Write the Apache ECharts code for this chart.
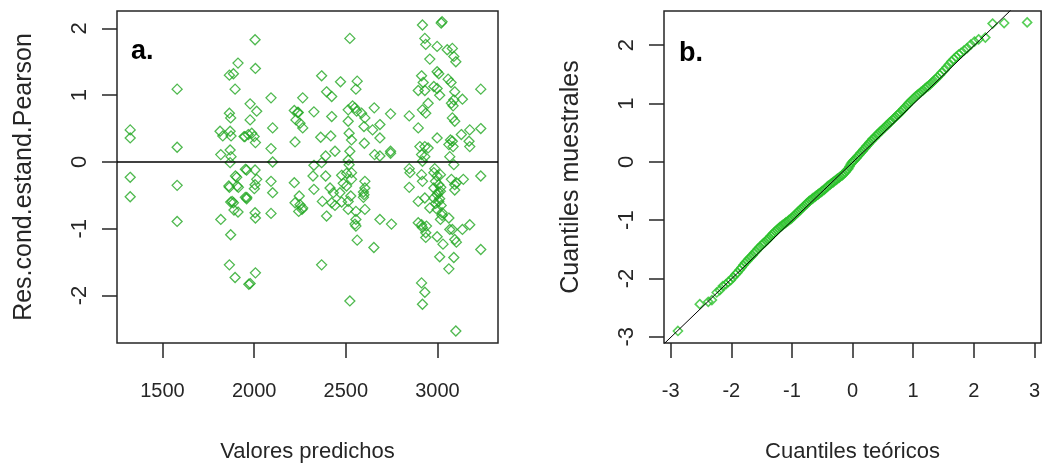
<!DOCTYPE html>
<html>
<head>
<meta charset="utf-8">
<script src="https://cdn.jsdelivr.net/npm/echarts@6/dist/echarts.min.js"></script>
<style>
  html, body { margin: 0; padding: 0; background: #fff; }
  #main { width: 1043px; height: 468px; }
</style>
</head>
<body>
<div id="main"></div>
<script>
// panel a: valores predichos vs residuos
const predX = [
  1324, 1324, 1324, 1324,
  1580, 1580, 1580, 1580,
  1912, 1865, 1887, 1896, 1865, 1872, 1814, 1829, 1869, 1874, 1818, 1869, 1874, 1869, 1905, 1865, 1914, 1872, 1887, 1912, 1818, 1872, 1865, 1896,
  1898, 1907, 1862, 1880, 1890, 1952, 1952, 1971, 1945,
  2005, 2007, 1978, 2014, 1978, 1950, 1968, 1987, 2000, 2007, 1959, 2005, 2014, 2005, 2001, 1959, 2005, 2007, 1978, 2007, 1960,
  2092, 2101, 2092, 2101, 2092, 2101, 2092,
  2265, 2219, 2237, 2228, 2250, 2265, 2223, 2219, 2246, 2223, 2250, 2265, 2243, 2261, 2241,
  2368, 2326, 2395, 2423, 2423, 2363, 2418, 2390, 2441, 2326, 2368, 2321, 2390, 2326, 2414, 2432, 2372, 2423, 2441, 2395, 2368,
  2522, 2471, 2562, 2555, 2513, 2537, 2549, 2559, 2513, 2518, 2531, 2522, 2513, 2518, 2477, 2504, 2531, 2531, 2486, 2468, 2504, 2527, 2513, 2477, 2513, 2555, 2555, 2555, 2562, 2522, 2550,
  2604, 2599, 2586, 2601, 2604, 2604, 2599, 2604, 2596, 2596, 2655, 2646, 2657, 2686, 2686, 2686, 2653, 2686, 2744, 2744, 2744, 2749,
  2918, 2846, 2895, 2846, 2850, 2846, 2895, 2895, 2913, 2918, 2913, 2931, 2918, 2931, 2936, 2958, 2913, 2922, 2895, 2931, 2918, 2936, 2949, 2904, 2931, 2949, 2913, 2931, 2918, 2913, 2918, 2931, 2940, 2936, 2936,
  3025, 3020, 2998, 3053, 2998, 3007, 2980, 2998, 3012, 3058, 3074, 2998, 2980, 2998, 3016, 2989, 3007, 2980, 3016, 2998, 2980, 3007, 3020, 2998, 3025, 2958, 3016, 3025, 2998, 3012, 3030, 3071, 3062, 3067, 3062, 3067, 3062,
  2985, 3005, 3012, 2990, 3018,
  3081, 3089, 3100, 3094, 3089, 3076, 3085, 3136, 3081, 3094, 3081, 3085, 3089, 3076, 3094, 3103, 3094, 3141, 3136, 3081, 3094, 3103, 3089, 3100, 3130, 3176, 3172, 3176, 3176,
  3236, 3236, 3236, 3236
];
const resY = [
  0.48, 0.36, -0.23, -0.52,
  1.09, 0.22, -0.35, -0.89,
  1.48, 1.30, 1.32, 1.09, 0.73, 0.66, 0.46, 0.39, 0.46, 0.39, 0.11, 0.18, 0.08, -0.01, -0.23, -0.38, -0.38, -0.60, -0.61, -0.75, -0.86, -1.09, -1.54, -1.73,
  -0.21, -0.36, -0.36, -0.59, -0.72, -0.11, -0.53, -1.83, 0.38,
  1.83, 1.40, 0.87, 0.76, 0.63, 0.38, 0.41, 0.43, 0.38, 0.29, -0.12, -0.12, -0.26, -0.34, -0.40, -0.55, -0.76, -0.84, -1.82, -1.66, -0.53,
  0.96, 0.51, 0.20, 0.00, -0.29, -0.46, -0.77,
  0.96, 0.77, 0.74, 0.63, 0.58, 0.51, 0.30, -0.31, -0.51, -0.61, -0.64, -0.69, -0.74, -0.71, 0.74,
  1.29, 0.75, 1.05, 0.98, 0.68, 0.37, 0.39, 0.09, 0.16, -0.05, -0.01, -0.21, -0.21, -0.41, -0.39, -0.46, -0.59, -0.61, -0.65, -0.81, -1.54,
  1.85, 1.20, 1.21, 1.09, 0.78, 0.84, 0.81, 0.76, 0.61, 0.43, 0.33, 0.16, 0.03, -0.04, -0.20, -0.17, -0.16, -0.26, -0.32, -0.46, -0.36, -0.51, -0.59, -0.60, -0.71, -0.74, -0.86, -0.96, -1.17, -2.08, -0.93,
  0.66, 0.53, 0.73, 0.28, -0.29, -0.39, -0.49, -0.71, -0.45, -0.53, 0.81, 0.48, 0.11, 0.56, 0.36, 0.09, -1.28, -0.86, 0.72, 0.16, 0.13, -0.93,
  2.05, 0.69, 0.51, -0.10, -0.16, -0.38, -0.59, -0.91, -0.94, -0.98, -1.81, -1.95, -2.13, 1.85, 1.76, 1.54, 1.29, 1.19, 1.07, 1.07, 0.78, 0.73, 0.88, 0.23, 0.23, 0.21, 0.11, 0.08, 0.01, -0.19, -0.29, -0.54, -0.96, -1.06, -1.13,
  2.10, 2.08, 1.73, 1.68, 1.35, 1.32, 1.13, 1.10, 1.00, 1.24, 1.19, 0.36, -0.16, -0.21, -0.19, -0.29, -0.34, -0.39, -0.44, -0.49, -0.54, -0.59, -0.65, -0.71, -0.76, -0.69, -0.86, -0.80, -1.12, -1.42, -1.23, 0.33, 0.26, 0.08, -0.84, -1.01, -1.60,
  -0.10, -0.45, -0.55, -0.62, -0.38,
  1.70, 1.58, 1.50, 1.05, 0.93, 0.88, 0.84, 0.94, 0.66, 0.61, 0.31, 0.23, -0.04, -0.26, -0.34, -0.31, -0.42, -0.26, -1.01, -1.01, -1.16, -1.20, -1.43, -2.53, 0.41, 0.48, 0.31, 0.23, -0.94,
  1.09, 0.50, -0.21, -1.31
];
const xTicksA = [1500, 2000, 2500, 3000];
const yTicksA = [-2, -1, 0, 1, 2];

// panel b: QQ normal
const qqTheo = [
  -2.88, -2.52, -2.38, -2.32, -2.24, -2.19, -2.14, -2.09, -2.05, -2.01, -1.97, -1.93, -1.90, -1.86, -1.83, -1.80, -1.77, -1.74, -1.71, -1.68,
  -1.65, -1.62, -1.59, -1.56, -1.53, -1.50, -1.47, -1.45, -1.42, -1.40, -1.37, -1.35, -1.32, -1.30, -1.27, -1.25, -1.22, -1.20, -1.17, -1.15,
  -1.12, -1.10, -1.07, -1.05, -1.02, -1.00, -0.97, -0.95, -0.92, -0.90, -0.87, -0.85, -0.82, -0.80, -0.77, -0.75, -0.72, -0.70, -0.67, -0.65,
  -0.62, -0.60, -0.57, -0.55, -0.52, -0.50, -0.47, -0.45, -0.42, -0.40, -0.37, -0.35, -0.32, -0.30, -0.27, -0.25, -0.22, -0.20, -0.17, -0.15,
  -0.12, -0.10, -0.07, -0.05, -0.03, -0.01, 0.01, 0.03, 0.06, 0.08, 0.11, 0.13, 0.16, 0.18, 0.21, 0.23, 0.26, 0.28, 0.31, 0.33,
  0.36, 0.38, 0.41, 0.43, 0.46, 0.48, 0.51, 0.53, 0.56, 0.58, 0.61, 0.63, 0.66, 0.69, 0.71, 0.74, 0.76, 0.79, 0.82, 0.84,
  0.87, 0.90, 0.92, 0.95, 0.98, 1.01, 1.04, 1.07, 1.10, 1.13, 1.16, 1.19, 1.22, 1.25, 1.28, 1.31, 1.34, 1.37, 1.40, 1.44,
  1.47, 1.51, 1.55, 1.59, 1.63, 1.67, 1.71, 1.75, 1.79, 1.84, 1.89, 1.95, 2.01, 2.08, 2.19, 2.31, 2.50, 2.88
];
const qqSample = [
  -2.90, -2.44, -2.40, -2.37, -2.24, -2.20, -2.13, -2.10, -2.06, -2.03, -1.98, -1.93, -1.90, -1.85, -1.81, -1.77, -1.73, -1.70, -1.66, -1.63,
  -1.60, -1.56, -1.53, -1.49, -1.46, -1.43, -1.40, -1.38, -1.35, -1.33, -1.30, -1.27, -1.24, -1.22, -1.19, -1.17, -1.14, -1.12, -1.10, -1.08,
  -1.06, -1.04, -1.02, -1.00, -0.98, -0.96, -0.93, -0.91, -0.88, -0.86, -0.83, -0.81, -0.78, -0.76, -0.73, -0.71, -0.68, -0.66, -0.64, -0.62,
  -0.60, -0.58, -0.56, -0.54, -0.52, -0.50, -0.48, -0.46, -0.43, -0.41, -0.39, -0.37, -0.35, -0.33, -0.31, -0.29, -0.27, -0.25, -0.23, -0.21,
  -0.18, -0.15, -0.12, -0.08, -0.04, -0.01, 0.01, 0.03, 0.06, 0.09, 0.12, 0.15, 0.18, 0.21, 0.24, 0.27, 0.30, 0.33, 0.36, 0.39,
  0.41, 0.44, 0.47, 0.49, 0.52, 0.54, 0.57, 0.59, 0.62, 0.64, 0.67, 0.69, 0.72, 0.75, 0.77, 0.80, 0.82, 0.85, 0.88, 0.91,
  0.94, 0.97, 1.00, 1.03, 1.06, 1.09, 1.12, 1.15, 1.17, 1.20, 1.22, 1.25, 1.28, 1.30, 1.33, 1.36, 1.39, 1.42, 1.45, 1.49,
  1.53, 1.57, 1.62, 1.67, 1.72, 1.76, 1.80, 1.84, 1.87, 1.91, 1.95, 2.01, 2.06, 2.10, 2.13, 2.37, 2.38, 2.39
];
const qqIntercept = -0.01;
const qqSlope = 1.0;
const xTicksB = [-3, -2, -1, 0, 1, 2, 3];
const yTicksB = [-3, -2, -1, 0, 1, 2];

const green = '#23a823';
const ink = '#262626';
const sans = "'Liberation Sans', Arial, sans-serif";

const xRangeB = [-3.11, 3.11];

var myChart = echarts.init(document.getElementById('main'));

function xAxisOf(idx, min, max, ticks, title) {
  return {
    type: 'value', gridIndex: idx, min: min, max: max,
    name: title, nameLocation: 'middle', nameGap: 98,
    nameTextStyle: { fontFamily: sans, fontSize: 22, color: ink },
    axisLine: { show: false, onZero: false },
    axisTick: { show: true, inside: false, length: 15, customValues: ticks, lineStyle: { color: ink, width: 1.5 } },
    axisLabel: { customValues: ticks, margin: 38, fontFamily: sans, fontSize: 20, color: ink, formatter: v => String(v) },
    splitLine: { show: false }
  };
}
function yAxisOf(idx, min, max, ticks, title) {
  return {
    type: 'value', gridIndex: idx, min: min, max: max,
    name: title, nameLocation: 'middle', nameGap: 80,
    nameTextStyle: { fontFamily: sans, fontSize: 25, color: ink },
    axisLine: { show: false, onZero: false },
    axisTick: { show: true, inside: false, length: 15, customValues: ticks, lineStyle: { color: ink, width: 1.5 } },
    axisLabel: { customValues: ticks, rotate: 90, margin: 26, fontFamily: sans, fontSize: 22, color: ink, formatter: v => String(v) },
    splitLine: { show: false }
  };
}

myChart.setOption({
  animation: false,
  backgroundColor: '#fff',
  grid: [
    { left: 117, top: 11, width: 381, height: 333, show: true, borderColor: ink, borderWidth: 1.5, containLabel: false },
    { left: 664, top: 11, width: 381, height: 333, show: true, borderColor: ink, borderWidth: 1.5, containLabel: false }
  ],
  xAxis: [
    xAxisOf(0, 1252, 3330, xTicksA, 'Valores predichos'),
    xAxisOf(1, xRangeB[0], xRangeB[1], xTicksB, 'Cuantiles teóricos')
  ],
  yAxis: [
    yAxisOf(0, -2.71, 2.26, yTicksA, 'Res.cond.estand.Pearson'),
    yAxisOf(1, -3.106, 2.586, yTicksB, 'Cuantiles muestrales')
  ],
  graphic: [
    { type: 'text', left: 131, top: 38, style: { text: 'a.', font: "bold 27px 'Liberation Sans', Arial, sans-serif", fill: '#000' }, z: 10 },
    { type: 'text', left: 679, top: 40, style: { text: 'b.', font: "bold 27px 'Liberation Sans', Arial, sans-serif", fill: '#000' }, z: 10 }
  ],
  series: [
    {
      type: 'scatter', xAxisIndex: 0, yAxisIndex: 0,
      symbol: 'diamond', symbolSize: 10,
      data: predX.map((x, i) => [x, resY[i]]),
      itemStyle: { color: 'transparent', borderColor: green, borderWidth: 1.3 },
      emphasis: { disabled: true },
      markLine: {
        silent: true, symbol: ['none', 'none'], label: { show: false },
        lineStyle: { color: '#000', width: 1.6, type: 'solid' },
        emphasis: { disabled: true },
        data: [{ yAxis: 0 }]
      }
    },
    {
      type: 'scatter', xAxisIndex: 1, yAxisIndex: 1,
      symbol: 'diamond', symbolSize: 9,
      data: qqTheo.map((x, i) => [x, qqSample[i]]),
      itemStyle: { color: 'transparent', borderColor: '#2cc22c', borderWidth: 1.6 },
      emphasis: { disabled: true }
    },
    {
      type: 'line', xAxisIndex: 1, yAxisIndex: 1,
      data: xRangeB.map(x => [x, qqIntercept + qqSlope * x]),
      symbol: 'none', clip: true, z: 5,
      lineStyle: { color: '#000', width: 1 },
      emphasis: { disabled: true }
    }
  ]
});
</script>
</body>
</html>
